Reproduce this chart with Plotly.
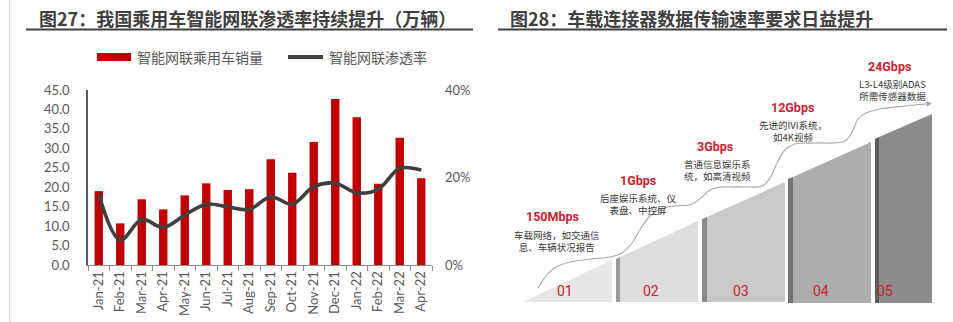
import plotly.graph_objects as go

W, H = 953, 322

# ---------------- data (left chart) ----------------
months = ["Jan-21", "Feb-21", "Mar-21", "Apr-21", "May-21", "Jun-21", "Jul-21", "Aug-21",
          "Sep-21", "Oct-21", "Nov-21", "Dec-21", "Jan-22", "Feb-22", "Mar-22", "Apr-22"]
sales = [19.0, 10.7, 16.9, 14.3, 17.9, 21.0, 19.3, 19.5,
         27.2, 23.7, 31.6, 42.7, 38.0, 20.9, 32.7, 22.3]
penetration = [0.162, 0.057, 0.104, 0.086, 0.114, 0.139, 0.133, 0.127,
               0.156, 0.139, 0.179, 0.187, 0.165, 0.173, 0.221, 0.217]
left_ticks = [0, 5, 10, 15, 20, 25, 30, 35, 40, 45]
right_ticks = [0, 0.2, 0.4]

title_left = "图27：我国乘用车智能网联渗透率持续提升（万辆）"
title_right = "图28：车载连接器数据传输速率要求日益提升"
legend_names = ["智能网联乘用车销量", "智能网联渗透率"]

# ---------------- diagram content (right panel) ----------------
step_labels = ["01", "02", "03", "04", "05"]
step_label_pos = [(565, 291), (651, 291), (741, 291), (821, 291), (885, 291)]
rates = ["150Mbps", "1Gbps", "3Gbps", "12Gbps", "24Gbps"]
rate_pos = [(552, 216.5), (638, 180.5), (715, 146.5), (792, 107.5), (889, 66.5)]
desc_lines = [["车载网络，如交通信", "息、车辆状况报告"],
              ["后座娱乐系统、仪", "表盘、中控屏"],
              ["普通信息娱乐系", "统，如高清视频"],
              ["先进的IVI系统，", "如4K视频"],
              ["L3-L4级别ADAS", "所需传感器数据"]]
desc_pos = [(557, 241), (638, 204), (717, 170), (793, 130.5), (892, 89.5)]
# block faces: (x_left, y_top_left, x_right, y_top_right, y_bottom)
blocks = [(523, 302, 612, 260, 302), (620, 257, 698, 221, 302), (707, 217, 785, 182, 302),
          (793, 177, 871, 142, 303), (879, 137, 932, 114, 303)]
block_fill = ["#E6E6E6", "#DDDDDD", "#C9C9C9", "#ADADAD", "#8C8C8C"]
strip_w = [0, 4, 5, 5, 4]
strip_fill = ["#A0A0A0", "#9A9A9A", "#8A8A8A", "#727272", "#5C5C5C"]
curve_x = [538, 546, 556, 570, 590, 610, 622, 632, 641, 650, 660, 675, 692, 702, 710, 722, 745,
           762, 770, 777, 785, 795, 815, 845, 853, 858, 866, 880, 905, 926]
curve_y = [288, 276, 267, 262, 259, 257, 253, 243, 228, 216, 209, 206, 204, 197, 190, 187, 187,
           186, 178, 163, 150, 144, 143, 141, 130, 119, 113, 109, 106, 104]


def px(x):
    return x / W


def py(y):
    return 1 - y / H


CJK = "Noto Sans CJK SC"
GRAY = "#595959"
RED_T = "#D0202E"

fig = go.Figure()

fig.add_trace(go.Bar(x=months, y=sales, marker_color="#C00000", marker_line_width=0,
                     name=legend_names[0], xaxis="x", yaxis="y", showlegend=False))
fig.add_trace(go.Scatter(x=months, y=penetration, mode="lines", name=legend_names[1],
                         line=dict(color="#404040", width=3.6, shape="spline", smoothing=1.0),
                         xaxis="x", yaxis="y2", showlegend=False))

# diagram curve
fig.add_trace(go.Scatter(x=curve_x, y=curve_y, mode="lines",
                         line=dict(color="#A8A8A8", width=1.1, shape="spline", smoothing=1.0),
                         xaxis="x3", yaxis="y3", showlegend=False, hoverinfo="skip"))

shapes = []
annotations = []

# left page border
shapes.append(dict(type="line", xref="paper", yref="paper", x0=px(9.5), x1=px(9.5), y0=0, y1=1,
                   line=dict(color="#D6D6D6", width=1)))

# titles + underline
for t, x0, xl, xr in [(title_left, 37, 26, 473), (title_right, 508, 498, 947)]:
    annotations.append(dict(text="<b>" + t + "</b>", xref="paper", yref="paper", x=px(x0), y=py(17.5),
                            xanchor="left", yanchor="middle", showarrow=False,
                            font=dict(family=CJK, size=18, color="#404040")))
    shapes.append(dict(type="line", xref="paper", yref="paper", x0=px(xl), x1=px(xr),
                       y0=py(29.5), y1=py(29.5), line=dict(color="#404040", width=2)))

# legend
shapes.append(dict(type="rect", xref="paper", yref="paper", x0=px(97), x1=px(131), y0=py(61), y1=py(53),
                   fillcolor="#C00000", line=dict(width=0)))
annotations.append(dict(text=legend_names[0], xref="paper", yref="paper", x=px(135), y=py(57),
                        xanchor="left", yanchor="middle", showarrow=False,
                        font=dict(family=CJK, size=14, color=GRAY)))
shapes.append(dict(type="line", xref="paper", yref="paper", x0=px(288), x1=px(323), y0=py(57), y1=py(57),
                   line=dict(color="#404040", width=4)))
annotations.append(dict(text=legend_names[1], xref="paper", yref="paper", x=px(327), y=py(57),
                        xanchor="left", yanchor="middle", showarrow=False,
                        font=dict(family=CJK, size=14, color=GRAY)))

# diagram blocks
for i, (xl, ytl, xr, ytr, yb) in enumerate(blocks):
    if strip_w[i] > 0:
        sx = xl - strip_w[i]
        shapes.append(dict(type="path", xref="x3", yref="y3", layer="below",
                           path=f"M{sx},{ytl + 2} L{xl},{ytl} L{xl},{yb} L{sx},{yb} Z",
                           fillcolor=strip_fill[i], line=dict(width=0)))
    shapes.append(dict(type="path", xref="x3", yref="y3", layer="below",
                       path=f"M{xl},{ytl} L{xr},{ytr} L{xr},{yb} L{xl},{yb} Z",
                       fillcolor=block_fill[i], line=dict(width=0)))

for lab, (x, y) in zip(step_labels, step_label_pos):
    annotations.append(dict(text=lab, xref="x3", yref="y3", x=x, y=y, showarrow=False,
                            font=dict(family="Liberation Sans Narrow, Roboto", size=14, color=RED_T)))
for lab, (x, y) in zip(rates, rate_pos):
    annotations.append(dict(text="<b>" + lab + "</b>", xref="x3", yref="y3", x=x, y=y, showarrow=False,
                            borderpad=0,
                            font=dict(family="Liberation Sans Narrow, Roboto", size=12.5, color=RED_T)))
for lines, (x, y) in zip(desc_lines, desc_pos):
    annotations.append(dict(text="<br>".join(lines), xref="x3", yref="y3", x=x, y=y, showarrow=False,
                            align="center", borderpad=0,
                            font=dict(family=CJK, size=9.5, color="#3A3A3A")))

# arrow head on curve
annotations.append(dict(text="", xref="x3", yref="y3", axref="x3", ayref="y3",
                        x=curve_x[-1] + 6, y=curve_y[-1] - 0.5, ax=curve_x[-1], ay=curve_y[-1],
                        showarrow=True, arrowhead=2, arrowsize=1, arrowwidth=1.1, arrowcolor="#A0A0A0"))

fig.update_layout(
    width=W, height=H, margin=dict(l=0, r=0, t=0, b=0, autoexpand=False),
    paper_bgcolor="white", plot_bgcolor="rgba(0,0,0,0)",
    bargap=0.61, showlegend=False,
    shapes=shapes, annotations=annotations,
    xaxis=dict(domain=[px(88), px(432)], anchor="y", type="category", automargin=False,
               showline=True, linecolor="#8C8C8C", linewidth=1.2,
               ticks="outside", tickson="boundaries", ticklen=5, tickcolor="#8C8C8C",
               tickangle=-90, tickfont=dict(family="Lato", size=13, color=GRAY),
               showgrid=False, zeroline=False, fixedrange=True),
    yaxis=dict(domain=[py(265), py(90)], anchor="x", range=[0, 45], tickvals=left_ticks,
               automargin=False,
               tickformat=".1f", showline=True, linecolor="#595959", linewidth=1.5,
               ticks="", ticklabelstandoff=14, tickfont=dict(family="Lato", size=13, color=GRAY),
               showgrid=False, zeroline=False, fixedrange=True),
    yaxis2=dict(overlaying="y", side="right", anchor="x", range=[0, 0.4], tickvals=right_ticks,
                automargin=False,
                tickformat=".0%", showline=False, ticks="", ticklabelstandoff=12,
                tickfont=dict(family="Lato", size=13, color=GRAY),
                showgrid=False, zeroline=False, fixedrange=True),
    xaxis3=dict(domain=[px(480), 1], anchor="y3", range=[480, 953], visible=False, fixedrange=True,
                automargin=False),
    yaxis3=dict(domain=[0, 1], anchor="x3", range=[322, 0], visible=False, fixedrange=True,
                automargin=False),
)

fig.write_html("out.html")
